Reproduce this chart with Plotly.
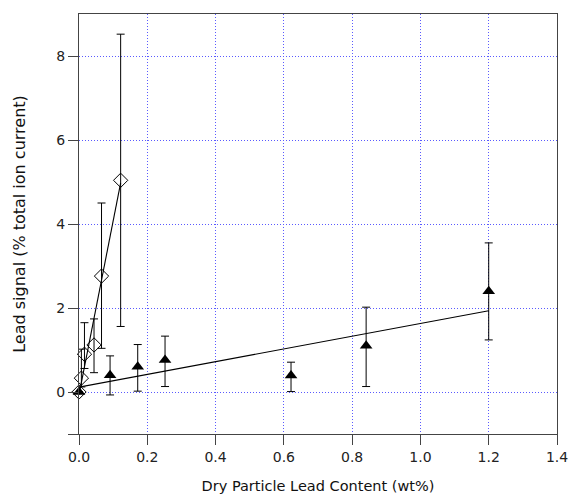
import plotly.graph_objects as go

# Triangles (filled)
tri_x = [0.0, 0.091, 0.172, 0.252, 0.621, 0.841, 1.2]
tri_y = [0.0, 0.40, 0.60, 0.76, 0.39, 1.10, 2.40]
tri_err_plus = [0.0, 0.46, 0.53, 0.57, 0.32, 0.92, 1.15]
tri_err_minus = [0.0, 0.47, 0.58, 0.63, 0.38, 0.97, 1.16]

# Diamonds (open)
dia_x = [0.0, 0.007, 0.016, 0.044, 0.066, 0.122]
dia_y = [0.0, 0.33, 0.90, 1.12, 2.76, 5.04]
dia_err_plus = [0.0, 0.69, 0.75, 0.62, 1.74, 3.48]
dia_err_minus = [0.0, 0.21, 0.34, 0.66, 1.72, 3.48]

# Linear fits (endpoints)
fit_tri_x = [0.0, 1.2]
fit_tri_y = [0.115, 1.935]
fit_dia_x = [0.0, 0.122]
fit_dia_y = [-0.06, 4.98]

x_ticks = [0, 0.2, 0.4, 0.6, 0.8, 1.0, 1.2, 1.4]
y_ticks = [-1, 0, 2, 4, 6, 8]
y_ticktext = ["", "0", "2", "4", "6", "8"]

fig = go.Figure()
fig.add_trace(go.Scatter(x=fit_tri_x, y=fit_tri_y, mode="lines",
                         line=dict(color="black", width=1.1), showlegend=False))
fig.add_trace(go.Scatter(x=fit_dia_x, y=fit_dia_y, mode="lines",
                         line=dict(color="black", width=1.1), showlegend=False))
fig.add_trace(go.Scatter(
    x=tri_x, y=tri_y, mode="markers",
    marker=dict(symbol="triangle-up", size=11, color="black"),
    error_y=dict(type="data", symmetric=False, array=tri_err_plus,
                 arrayminus=tri_err_minus, color="black", thickness=1, width=4),
    cliponaxis=False, showlegend=False))
fig.add_trace(go.Scatter(
    x=dia_x, y=dia_y, mode="markers",
    marker=dict(symbol="diamond-open", size=11, color="black",
                line=dict(width=1, color="black")),
    error_y=dict(type="data", symmetric=False, array=dia_err_plus,
                 arrayminus=dia_err_minus, color="black", thickness=1, width=4),
    cliponaxis=False, showlegend=False))

axis_common = dict(
    showline=True, linecolor="#444444", linewidth=1, mirror=True,
    ticks="outside", ticklen=10, tickcolor="#444444",
    showgrid=True, gridcolor="#5a5aff", griddash="1px,2px", gridwidth=1,
    zeroline=False, automargin=False,
    tickfont=dict(family="DejaVu Sans", size=14, color="#222222"),
)

fig.update_xaxes(range=[0, 1.4], tickvals=x_ticks, tickformat=".1f",
                 title=dict(text="Dry Particle Lead Content (wt%)",
                            font=dict(family="DejaVu Sans", size=14.5, color="#111111"),
                            standoff=17),
                 **axis_common)
fig.update_yaxes(range=[-1, 9], tickvals=y_ticks, ticktext=y_ticktext,
                 title=dict(text="Lead signal (% total ion current)",
                            font=dict(family="DejaVu Sans", size=16, color="#111111"),
                            standoff=26),
                 **axis_common)

fig.update_layout(
    width=570, height=494,
    margin=dict(l=79, r=13, t=14, b=60),
    plot_bgcolor="white", paper_bgcolor="white",
)

fig.write_html("out.html")
